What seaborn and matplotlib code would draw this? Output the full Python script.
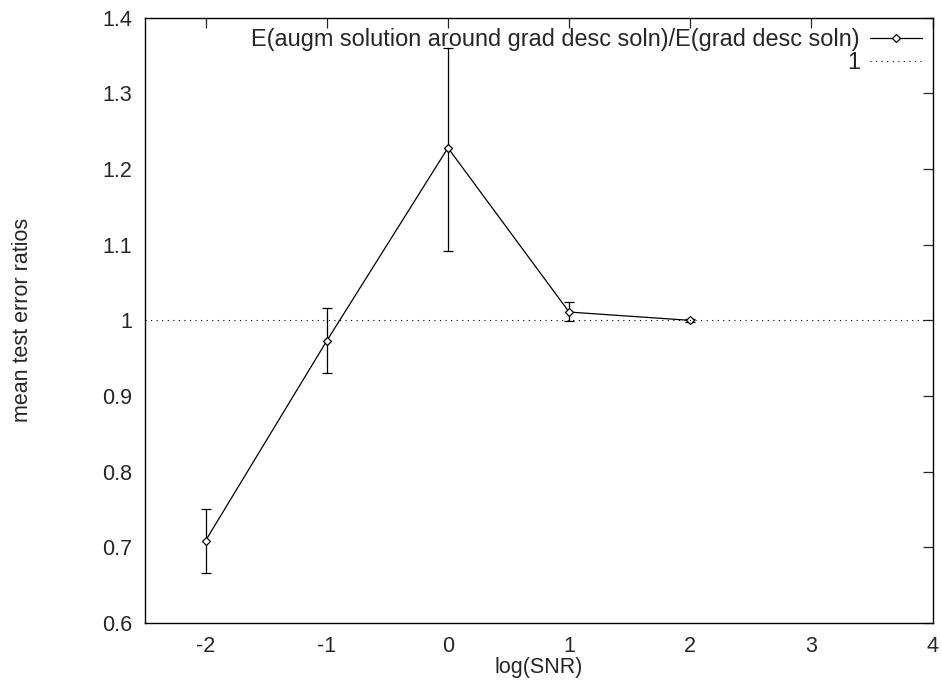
import matplotlib
matplotlib.use("Agg")
import matplotlib.pyplot as plt
import seaborn as sns
import pandas as pd
import numpy as np

log_snr = [-2, -1, 0, 1, 2]
ratio = [0.709, 0.973, 1.228, 1.011, 1.000]
err_low = [0.666, 0.930, 1.092, 0.999, 0.998]
err_high = [0.751, 1.016, 1.360, 1.024, 1.002]
xticks = [-2, -1, 0, 1, 2, 3, 4]
yticks = [0.6, 0.7, 0.8, 0.9, 1.0, 1.1, 1.2, 1.3, 1.4]
ytick_labels = ["0.6", "0.7", "0.8", "0.9", "1", "1.1", "1.2", "1.3", "1.4"]
series_label = "E(augm solution around grad desc soln)/E(grad desc soln)"
ref_label = "1"

sns.set_style("white")
plt.rcParams['font.family'] = ['Liberation Sans', 'DejaVu Sans']
plt.rcParams['font.size'] = 16
plt.rcParams['axes.unicode_minus'] = False

df = pd.DataFrame({"x": log_snr, "y": ratio})
fig = plt.figure(figsize=(9.42, 6.82), dpi=100)
ax = fig.add_axes([0.154, 0.0865, 0.836, 0.8875])

yerr = np.array([np.array(ratio) - np.array(err_low), np.array(err_high) - np.array(ratio)])
ax.errorbar(log_snr, ratio, yerr=yerr, fmt='none', ecolor='black', elinewidth=0.9, capsize=3.5, capthick=0.9)
sns.lineplot(data=df, x="x", y="y", ax=ax, color='black', linewidth=0.9, marker='D', markersize=4,
             markerfacecolor='white', markeredgecolor='black', markeredgewidth=0.9, label=series_label)
ax.axhline(1.0, color='black', linestyle=(0, (1, 4)), linewidth=0.8, label=ref_label)

ax.set_xlim(-2.5, 4)
ax.set_ylim(0.6, 1.4)
ax.set_xticks(xticks)
ax.set_xticklabels([str(v) for v in xticks])
ax.set_yticks(yticks)
ax.set_yticklabels(ytick_labels)
ax.tick_params(direction='in', top=True, right=True, length=7, width=0.9, labelsize=15.5, pad=9)
ax.set_xlabel("log(SNR)", fontsize=15.5, labelpad=0)
ax.set_ylabel("mean test error ratios", fontsize=15.5, labelpad=50)
for s in ax.spines.values():
    s.set_color('black')
    s.set_linewidth(1.0)

leg = ax.legend(loc='upper right', bbox_to_anchor=(1.0, 1.0), frameon=False, markerfirst=False, fontsize=16.9,
                handlelength=2.2, borderaxespad=0.0, borderpad=0.45, labelspacing=0.0, handletextpad=0.45)
for t in leg.get_texts():
    t.set_ha('right')
leg._legend_box.align = "right"

fig.savefig("out.png", dpi=100)
